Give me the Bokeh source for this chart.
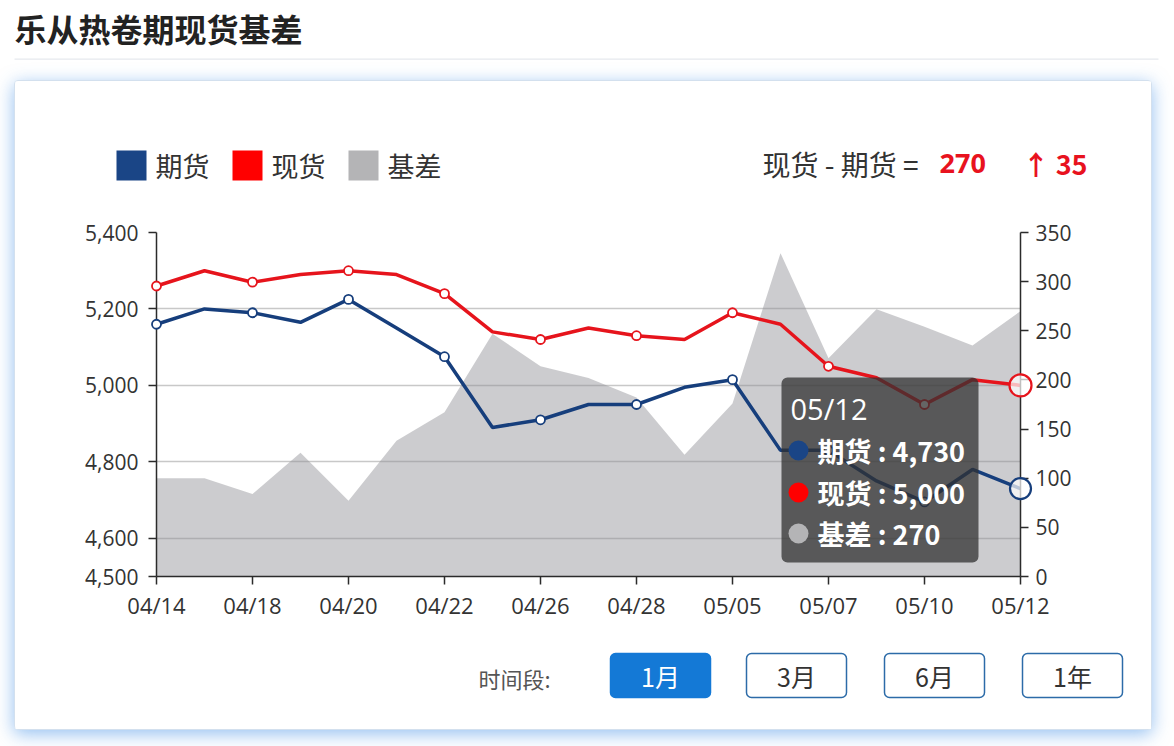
from bokeh.plotting import figure
from bokeh.layouts import column
from bokeh.models import (Range1d, LinearAxis, FixedTicker, NumeralTickFormatter,
                          ColumnDataSource, Label, BoxAnnotation)
from bokeh.core.properties import value
from bokeh.embed import file_html
from bokeh.resources import INLINE

# ---------------- data ----------------
dates = ["04/14", "04/15", "04/18", "04/19", "04/20", "04/21", "04/22", "04/25", "04/26",
         "04/27", "04/28", "04/29", "05/05", "05/06", "05/07", "05/09", "05/10", "05/11", "05/12"]
futures = [5160, 5200, 5190, 5165, 5225, 5150, 5075, 4890, 4910, 4950, 4950, 4995, 5015,
           4830, 4830, 4750, 4695, 4780, 4730]
spot = [5260, 5300, 5270, 5290, 5300, 5290, 5240, 5140, 5120, 5150, 5130, 5120, 5190,
        5160, 5050, 5020, 4950, 5015, 5000]
basis = [100, 100, 84, 126, 77, 138, 167, 247, 214, 202, 182, 124, 176,
         329, 222, 272, 254, 235, 270]
left_ticks = [4500, 4600, 4800, 5000, 5200, 5400]
right_ticks = [0, 50, 100, 150, 200, 250, 300, 350]
series_names = ["期货", "现货", "基差"]
period_buttons = ["1月", "3月", "6月", "1年"]
page_title = "乐从热卷期现货基差"

# ---------------- style ----------------
CJK = "Noto Sans CJK SC"
NUM = "Open Sans"
BLUE = "#163e7c"
RED = "#e6141c"
GRAY_AREA = "#8e8e94"
LEG_COLORS = ["#1a4586", "#ff0000", "#b4b4b6"]
TXT = "#333333"
HL_RED = "#e8121e"


def canvas_fig(x0, x1, y0, y1):
    """A figure whose frame is the whole canvas; data units == page pixels."""
    f = figure(width=x1 - x0, height=y1 - y0, x_range=Range1d(x0, x1), y_range=Range1d(y1, y0),
               x_axis_location=None, y_axis_location=None, title_location=None,
               min_border=0, output_backend="svg", toolbar_location=None,
               background_fill_color="white", border_fill_color="white",
               outline_line_color=None, frame_align=False)
    f.grid.visible = False
    return f


def txt(f, x, y, s, size, color=TXT, bold=False, align="left", font=CJK):
    f.text(x=[x], y=[y], text=[s], text_font=value(font), text_font_size=f"{size}px",
           text_color=color, text_font_style="bold" if bold else "normal",
           text_align=align, text_baseline="middle")


# ---------------- page title ----------------
tf = canvas_fig(0, 1166, 0, 72)
txt(tf, 14, 27, page_title, 32, color="#222222", bold=True)
tf.quad(left=[14], right=[1158], top=[58], bottom=[59.2], fill_color="#e6e9ee", line_color=None)

# ---------------- header (legend + basis summary) ----------------
hf = canvas_fig(15, 1151, 81, 211)
leg_x = [116, 232, 348]
hf.quad(left=leg_x, right=[x + 30 for x in leg_x], top=[150] * 3, bottom=[180] * 3,
        fill_color=LEG_COLORS, line_color=None)
for xs, name in zip(leg_x, series_names):
    txt(hf, xs + 39, 165, name, 27)
txt(hf, 762, 163, "现货 - 期货 =", 28)
txt(hf, 939, 163, f"{basis[-1]}", 27, color=HL_RED, bold=True, font=NUM)
txt(hf, 1022, 163, f"↑ {basis[-1] - basis[-2]}", 27, color=HL_RED, bold=True, font=CJK)

# ---------------- chart ----------------
idx = list(range(len(dates)))
p = figure(width=1136, height=429, x_range=Range1d(0, len(dates) - 1),
           y_range=Range1d(left_ticks[0], left_ticks[-1]), title_location=None,
           output_backend="svg", toolbar_location=None, frame_align=False,
           min_border_left=141, min_border_right=131, min_border_top=21, min_border_bottom=64,
           background_fill_color="white", border_fill_color="white", outline_line_color=None)
p.extra_y_ranges = {"basis": Range1d(right_ticks[0], right_ticks[-1])}

xa = p.xaxis[0]
xa.ticker = FixedTicker(ticks=idx[::2])
xa.major_label_overrides = {i: d for i, d in zip(idx, dates)}
ya = p.yaxis[0]
ya.ticker = FixedTicker(ticks=left_ticks)
ya.formatter = NumeralTickFormatter(format="0,0")
ra = LinearAxis(y_range_name="basis", ticker=FixedTicker(ticks=right_ticks))
p.add_layout(ra, "right")
for ax in (xa, ya, ra):
    ax.axis_line_color = "#2b2b2b"
    ax.axis_line_width = 1.5
    ax.major_tick_line_color = "#2b2b2b"
    ax.major_tick_line_width = 1.5
    ax.major_tick_out = 8
    ax.major_tick_in = 0
    ax.minor_tick_line_color = None
    ax.major_label_text_font = NUM
    ax.major_label_text_color = TXT
    ax.major_label_text_font_size = "21px"
xa.major_label_text_font_size = "22px"
xa.major_label_standoff = 5
ya.major_label_standoff = 10
ra.major_label_standoff = 7

p.xgrid.visible = False
p.ygrid.grid_line_color = "#c8c8c8"
p.ygrid.grid_line_width = 1.3

src = ColumnDataSource(dict(x=idx, fut=futures, spot=spot, basis=basis))
p.varea(x="x", y1=0, y2="basis", source=src, y_range_name="basis",
        fill_color=GRAY_AREA, fill_alpha=0.45)
p.line("x", "fut", source=src, line_color=BLUE, line_width=3.5)
p.line("x", "spot", source=src, line_color=RED, line_width=3.5)

mk = ColumnDataSource(dict(x=idx[:-1:2], fut=futures[:-1:2], spot=spot[:-1:2]))
p.scatter("x", "fut", source=mk, size=9, fill_color="white", line_color=BLUE,
          line_width=1.8, level="annotation")
p.scatter("x", "spot", source=mk, size=9, fill_color="white", line_color=RED,
          line_width=1.8, level="annotation")
last = ColumnDataSource(dict(x=idx[-1:], fut=futures[-1:], spot=spot[-1:]))
p.scatter("x", "fut", source=last, size=21, fill_color="white", fill_alpha=0.7,
          line_color=BLUE, line_width=2.2, level="annotation")
p.scatter("x", "spot", source=last, size=22, fill_color="white", fill_alpha=0.7,
          line_color=RED, line_width=2.2, level="annotation")

# tooltip (canvas units of the chart figure; page offset 15, 211)
OX, OY = 15, 211


def cbox(l, r, t, b, fill, falpha=1.0, radius=0):
    p.add_layout(BoxAnnotation(left=l - OX, right=r - OX, top=t - OY, bottom=b - OY,
                               left_units="canvas", right_units="canvas",
                               top_units="canvas", bottom_units="canvas",
                               fill_color=fill, fill_alpha=falpha, line_color=None,
                               border_radius=int(radius), level="overlay"))


def clab(x, y, s, size, bold=False, font=CJK):
    p.add_layout(Label(x=x - OX, y=y - OY, x_units="canvas", y_units="canvas", text=s,
                       text_font=font, text_font_size=f"{size}px", text_color="white",
                       text_font_style="bold" if bold else "normal",
                       text_align="left", text_baseline="middle", level="overlay"))


cbox(781, 978, 377, 562, "#323232", falpha=0.75, radius=6)
clab(790, 408, dates[-1], 29, font=NUM)
rows = [(series_names[0], f"{futures[-1]:,}"), (series_names[1], f"{spot[-1]:,}"),
        (series_names[2], f"{basis[-1]:,}")]
for (name, val), col, cy in zip(rows, LEG_COLORS, [450, 492, 533]):
    cbox(788, 808, cy - 10, cy + 10, col, radius=10)
    clab(817, cy, f"{name} : {val}", 27, bold=True)

# ---------------- period buttons ----------------
bf = canvas_fig(15, 1151, 640, 729)
txt(bf, 478, 677, "时间段:", 22, color="#555555")
btn_l = [610, 746, 884, 1022]
bf.quad(left=btn_l, right=[b + 100 for b in btn_l], top=[653] * 4, bottom=[697] * 4,
        fill_color=["#1479d6", "white", "white", "white"],
        line_color=["#1479d6", "#2c6ba8", "#2c6ba8", "#2c6ba8"], line_width=1.5,
        border_radius=5)
for i, (bl, s) in enumerate(zip(btn_l, period_buttons)):
    txt(bf, bl + 50, 675, s, 25, color="white" if i == 0 else "#333333", align="center")

card = column(hf, p, bf, margin=(8, 0, 0, 14), spacing=0,
              styles={"border": "1px solid #d3e0ee", "border-radius": "4px",
                      "box-shadow": "0 4px 18px rgba(60,140,230,0.55)",
                      "background-color": "white"})
root = column(tf, card, spacing=0)

open("out.html", "w").write(file_html(root, INLINE))
